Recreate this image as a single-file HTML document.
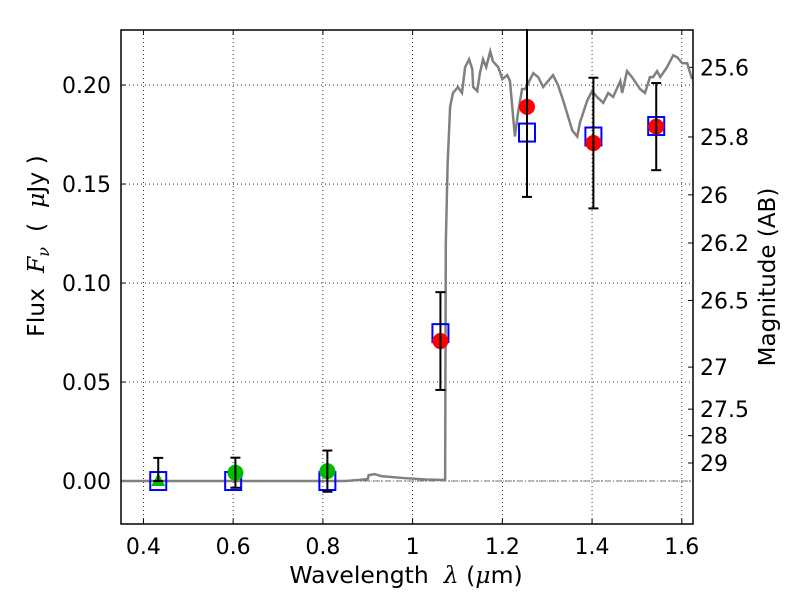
<!DOCTYPE html>
<html><head><meta charset="utf-8"><style>
body{margin:0;background:#fff}
svg{display:block;font-family:"DejaVu Sans","Liberation Sans",sans-serif}
svg text{white-space:pre}
</style></head><body>
<svg id="c" width="800" height="600"></svg>
<script>
const specWl=[0.35,0.85,0.88,0.9,0.902,0.915,0.93,0.98,1.03,1.0725,1.074,1.078,1.0836,1.090,1.101,1.110,1.117,1.126,1.133,1.135,1.144,1.150,1.157,1.164,1.173,1.179,1.191,1.200,1.211,1.217,1.228,1.235,1.244,1.251,1.269,1.280,1.291,1.302,1.313,1.324,1.333,1.344,1.356,1.367,1.373,1.389,1.400,1.411,1.425,1.436,1.447,1.463,1.467,1.478,1.489,1.507,1.518,1.529,1.536,1.545,1.552,1.567,1.581,1.590,1.601,1.612,1.623];
const specFlux=[0,0,0.0005,0.001,0.003,0.0035,0.0025,0.0015,0.0008,0.0005,0.12,0.16,0.189,0.196,0.199,0.196,0.209,0.213,0.208,0.199,0.197,0.206,0.213,0.209,0.217,0.212,0.209,0.203,0.205,0.202,0.174,0.186,0.198,0.198,0.206,0.204,0.199,0.202,0.205,0.200,0.194,0.186,0.177,0.174,0.181,0.192,0.197,0.194,0.191,0.196,0.194,0.202,0.196,0.207,0.204,0.198,0.196,0.204,0.204,0.207,0.204,0.209,0.215,0.214,0.211,0.211,0.203];
const greenWl=[0.605,0.81];
const greenFlux=[0.0042,0.005];
const greenErr=[0.0076,0.0104];
const triWl=[0.433];
const triFlux=[0.0];
const triErrUp=[0.0117];
const redWl=[1.062,1.255,1.403,1.543];
const redFlux=[0.0707,0.189,0.1707,0.179];
const redErr=[0.0247,0.0455,0.033,0.022];
const modelWl=[0.433,0.6,0.81,1.062,1.255,1.403,1.543];
const modelFlux=[0,0,0,0.0747,0.176,0.174,0.1793];
const xTicks=[0.4,0.6,0.8,1,1.2,1.4,1.6];
const xTickLabels=["0.4","0.6","0.8","1","1.2","1.4","1.6"];
const yTicks=[0,0.05,0.1,0.15,0.2];
const yTickLabels=["0.00","0.05","0.10","0.15","0.20"];
const magTicks=[25.6,25.8,26,26.2,26.5,27,27.5,28,29];
const magLabels=["25.6","25.8","26","26.2","26.5","27","27.5","28","29"];

const L=121,R=693,T=30,B=524,X0=0.35,X1=1.625,Y0=-0.0217,Y1=0.2278;
const sx=v=>L+(v-X0)/(X1-X0)*(R-L);
const sy=v=>B-(v-Y0)/(Y1-Y0)*(B-T);
const svg=document.getElementById('c');
const NS='http://www.w3.org/2000/svg';
function mk(tag,attrs,parent){const e=document.createElementNS(NS,tag);for(const k in attrs)e.setAttribute(k,attrs[k]);(parent||svg).appendChild(e);return e;}
xTicks.forEach((t,i)=>{
 const g=mk('line',{x1:sx(t),x2:sx(t),y1:T,y2:B,stroke:'#000','stroke-width':0.8,'stroke-dasharray':'1,3'});
 
 
 mk('line',{x1:sx(t),x2:sx(t),y1:B,y2:B-5,stroke:'#000'});
 mk('line',{x1:sx(t),x2:sx(t),y1:T,y2:T+5,stroke:'#000'});
 const tx=mk('text',{x:sx(t),y:B+30,'font-size':22,'text-anchor':'middle'});tx.textContent=xTickLabels[i];
 
 
});
yTicks.forEach((t,i)=>{
 const g=mk('line',{x1:L,x2:R,y1:sy(t),y2:sy(t),stroke:'#000','stroke-width':0.8,'stroke-dasharray':'1,3'});
 
 
 mk('line',{x1:L,x2:L+5,y1:sy(t),y2:sy(t),stroke:'#000'});
 const tx=mk('text',{x:L-10,y:sy(t)+8,'font-size':22,'text-anchor':'end'});tx.textContent=yTickLabels[i];
 
 
});
magTicks.forEach((m,i)=>{
 const f=Math.pow(10,(23.9-m)/2.5);const y=sy(f);
 mk('line',{x1:R,x2:R-5,y1:y,y2:y,stroke:'#000'});
 const tx=mk('text',{x:R+7,y:y+8,'font-size':22});tx.textContent=magLabels[i];
 
 
});
mk('line',{x1:L,x2:R,y1:sy(0),y2:sy(0),stroke:'#555','stroke-width':0.8,'stroke-dasharray':'6,2,1,2'});
const sp=mk('polyline',{points:specWl.map((w,i)=>sx(w)+','+sy(specFlux[i])).join(' '),fill:'none',stroke:'#808080','stroke-width':2.5});


modelWl.forEach((w,i)=>{
 const r=mk('rect',{x:sx(w)-8,y:sy(modelFlux[i])-9,width:16,height:18,fill:'none',stroke:'#0000ff','stroke-width':2});
 
 
});
function ebar(x,lo,hi){
 mk('line',{x1:x,x2:x,y1:sy(hi),y2:sy(lo),stroke:'#000','stroke-width':2});
 mk('line',{x1:x-5,x2:x+5,y1:sy(hi),y2:sy(hi),stroke:'#000','stroke-width':2});
 mk('line',{x1:x-5,x2:x+5,y1:sy(lo),y2:sy(lo),stroke:'#000','stroke-width':2});
}
triWl.forEach((w,i)=>{
 const x=sx(w),y=sy(triFlux[i]);
 const p=mk('polygon',{points:`${x},${y-8} ${x-7},${y+5} ${x+7},${y+5}`,fill:'#00bb00'});
 
 
 ebar(x,triFlux[i],triFlux[i]+triErrUp[i]);
});
greenWl.forEach((w,i)=>{
 const c=mk('circle',{cx:sx(w),cy:sy(greenFlux[i]),r:8,fill:'#00bb00'});
 
 
 ebar(sx(w),greenFlux[i]-greenErr[i],greenFlux[i]+greenErr[i]);
});
redWl.forEach((w,i)=>{
 const c=mk('circle',{cx:sx(w),cy:sy(redFlux[i]),r:8,fill:'#ff0000'});
 
 
 ebar(sx(w),redFlux[i]-redErr[i],Math.min(redFlux[i]+redErr[i],Y1+0.01));
});
mk('rect',{x:0,y:0,width:800,height:T-1,fill:'#fff'});
const fr=mk('rect',{x:L,y:T,width:R-L,height:B-T,fill:'none',stroke:'#000','stroke-width':1.5});


const xl=mk('text',{x:406,y:583,'font-size':23.5,'text-anchor':'middle'});
xl.innerHTML='Wavelength  <tspan font-style="italic" font-family="DejaVu Serif,serif">λ</tspan> (<tspan font-style="italic" font-family="DejaVu Serif,serif">μ</tspan>m)';


const yl=mk('text',{x:0,y:0,'font-size':23.5,'text-anchor':'middle',transform:'translate(44,246) rotate(-90)'});
yl.innerHTML='Flux  <tspan font-style="italic" font-family="DejaVu Serif,serif">F</tspan><tspan font-style="italic" font-family="DejaVu Serif,serif" font-size="16" dy="5">ν</tspan><tspan dy="-5">  (  <tspan font-style="italic" font-family="DejaVu Serif,serif">μ</tspan>Jy )</tspan>';


const rl=mk('text',{x:0,y:0,'font-size':23,'text-anchor':'middle',transform:'translate(775,277) rotate(-90)'});
rl.textContent='Magnitude (AB)';


</script>
</body></html>
